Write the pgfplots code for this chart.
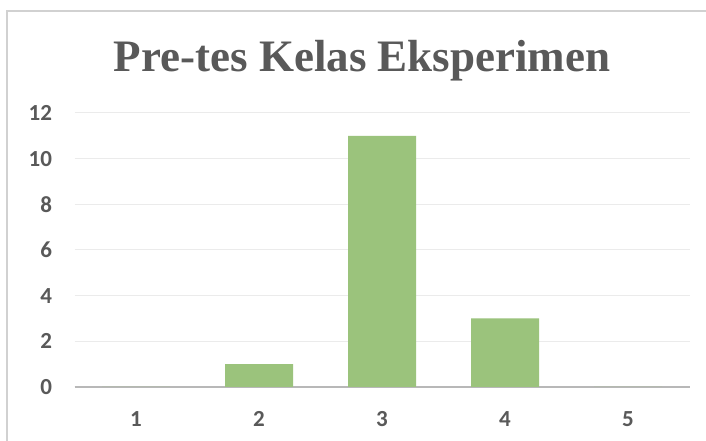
\documentclass[border=0pt]{standalone}
\usepackage{pgfplots}
\pgfplotsset{compat=1.18}
\usepackage{fontspec}
\setmainfont{Carlito}
\newfontfamily\titlefont{Liberation Serif}
\definecolor{barg}{HTML}{9BC37C}
\definecolor{txt}{HTML}{595959}
\begin{document}
\begin{tikzpicture}[x=1pt,y=1pt]
\clip (0,0) rectangle (706,441);
\fill[white] (0,0) rectangle (706,441);
\draw[color=black!18, line width=1.3pt] (7,-10) rectangle (720,430);
\node[anchor=base, text=txt, font=\titlefont\bfseries\fontsize{45}{48}\selectfont] at (362,369) {Pre-tes Kelas Eksperimen};
\begin{axis}[
  at={(74.5pt,54pt)}, anchor=south west,
  scale only axis, width=615pt, height=274pt,
  xmin=0.5, xmax=5.5, ymin=0, ymax=12,
  xtick={1,2,3,4,5}, ytick={0,2,...,12},
  ybar, bar width=68pt,
  ymajorgrids, grid style={color=black!8, line width=1pt},
  separate axis lines,
  axis x line*=bottom, axis y line*=left,
  x axis line style={color=black!28, line width=2.5pt, -},
  y axis line style={draw=none},
  major tick length=0pt,
  /pgf/number format/assume math mode=true,
  ticklabel style={text=txt, font=\bfseries\fontsize{23}{25}\selectfont},
  yticklabel style={xshift=-19pt},
  xticklabel style={yshift=-21pt},
  clip=false,
]
\addplot[fill=barg, draw=none, bar shift=0pt] coordinates {(1,0) (2,1) (3,11) (4,3) (5,0)};
\end{axis}
\end{tikzpicture}
\end{document}
